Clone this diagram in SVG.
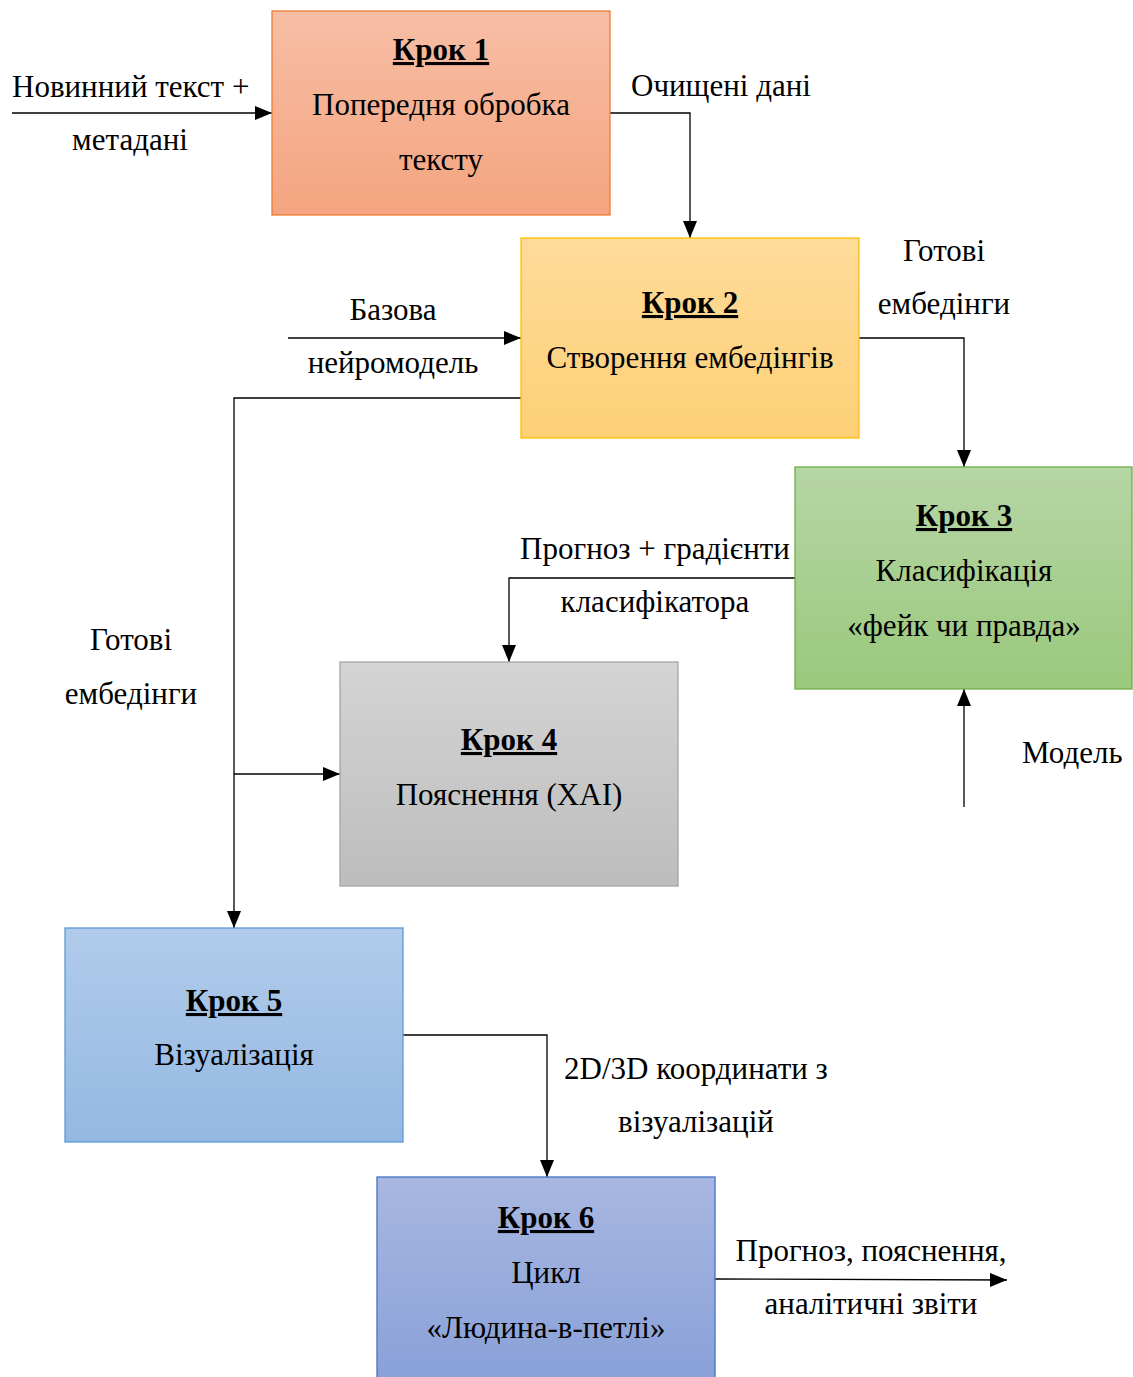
<svg xmlns="http://www.w3.org/2000/svg" width="1133" height="1377" viewBox="0 0 1133 1377">
  <style>
    text { font-family: "Liberation Serif", "Times New Roman", serif; font-size: 31px; fill: #000; }
    .c { text-anchor: middle; }
    .h { font-weight: bold; text-decoration: underline; }
    .box { stroke-width: 1.3; }
    .conn { fill: none; stroke: #000; stroke-width: 1.3; }
  </style>
  <defs>
    <marker id="arr" markerUnits="userSpaceOnUse" markerWidth="18" markerHeight="14" refX="17" refY="7" orient="auto">
      <path d="M0,0 L17,7 L0,14 Z" fill="#000"/>
    </marker>
    <linearGradient id="g1" x1="0" y1="0" x2="0" y2="1"><stop offset="0" stop-color="#f7bea5"/><stop offset="1" stop-color="#f4a47f"/></linearGradient>
    <linearGradient id="g2" x1="0" y1="0" x2="0" y2="1"><stop offset="0" stop-color="#ffdb9a"/><stop offset="1" stop-color="#fdd077"/></linearGradient>
    <linearGradient id="g3" x1="0" y1="0" x2="0" y2="1"><stop offset="0" stop-color="#b6d6a6"/><stop offset="1" stop-color="#9ac87c"/></linearGradient>
    <linearGradient id="g4" x1="0" y1="0" x2="0" y2="1"><stop offset="0" stop-color="#d4d4d4"/><stop offset="1" stop-color="#bdbdbd"/></linearGradient>
    <linearGradient id="g5" x1="0" y1="0" x2="0" y2="1"><stop offset="0" stop-color="#b1cbea"/><stop offset="1" stop-color="#94b8e2"/></linearGradient>
    <linearGradient id="g6" x1="0" y1="0" x2="0" y2="1"><stop offset="0" stop-color="#a8b7e1"/><stop offset="1" stop-color="#88a0d8"/></linearGradient>
  </defs>

  <!-- connectors -->
  <g id="connectors">
    <path class="conn" d="M12,113 H272" marker-end="url(#arr)"/>
    <path class="conn" d="M610,113 H690 V238" marker-end="url(#arr)"/>
    <path class="conn" d="M288,338 H521" marker-end="url(#arr)"/>
    <path class="conn" d="M859,338 H964 V467" marker-end="url(#arr)"/>
    <path class="conn" d="M521,398 H234 V928" marker-end="url(#arr)"/>
    <path class="conn" d="M234,774 H340" marker-end="url(#arr)"/>
    <path class="conn" d="M795,578 H509 V662" marker-end="url(#arr)"/>
    <path class="conn" d="M964,807 V689" marker-end="url(#arr)"/>
    <path class="conn" d="M403,1035 H547 V1177" marker-end="url(#arr)"/>
    <path class="conn" d="M715,1279 L1007,1280" marker-end="url(#arr)"/>
  </g>

  <!-- connector labels -->
  <g id="labels">
    <text x="12" y="97">Новинний текст +</text>
    <text class="c" x="130" y="150">метадані</text>
    <text x="631" y="96">Очищені дані</text>
    <text class="c" x="944" y="261">Готові</text>
    <text class="c" x="944" y="314">ембедінги</text>
    <text class="c" x="393" y="320">Базова</text>
    <text class="c" x="393" y="373">нейромодель</text>
    <text class="c" x="655" y="559">Прогноз + градієнти</text>
    <text class="c" x="655" y="612">класифікатора</text>
    <text class="c" x="131" y="650">Готові</text>
    <text class="c" x="131" y="704">ембедінги</text>
    <text x="1022" y="763">Модель</text>
    <text class="c" x="696" y="1079">2D/3D координати з</text>
    <text class="c" x="696" y="1132">візуалізацій</text>
    <text class="c" x="871" y="1261">Прогноз, пояснення,</text>
    <text class="c" x="871" y="1314">аналітичні звіти</text>
  </g>

  <g id="step1">
    <rect class="box" x="272" y="11" width="338" height="204" fill="url(#g1)" stroke="#ed7d31"/>
    <text class="c h" x="441" y="60">Крок 1</text>
    <text class="c" x="441" y="115">Попередня обробка</text>
    <text class="c" x="441" y="170">тексту</text>
  </g>

  <g id="step2">
    <rect class="box" x="521" y="238" width="338" height="200" fill="url(#g2)" stroke="#ffc000"/>
    <text class="c h" x="690" y="313">Крок 2</text>
    <text class="c" x="690" y="368">Створення ембедінгів</text>
  </g>

  <g id="step3">
    <rect class="box" x="795" y="467" width="337" height="222" fill="url(#g3)" stroke="#70ad47"/>
    <text class="c h" x="964" y="526">Крок 3</text>
    <text class="c" x="964" y="581">Класифікація</text>
    <text class="c" x="964" y="636">«фейк чи правда»</text>
  </g>

  <g id="step4">
    <rect class="box" x="340" y="662" width="338" height="224" fill="url(#g4)" stroke="#a5a5a5"/>
    <text class="c h" x="509" y="750">Крок 4</text>
    <text class="c" x="509" y="805">Пояснення (XAI)</text>
  </g>

  <g id="step5">
    <rect class="box" x="65" y="928" width="338" height="214" fill="url(#g5)" stroke="#5b9bd5"/>
    <text class="c h" x="234" y="1011">Крок 5</text>
    <text class="c" x="234" y="1065">Візуалізація</text>
  </g>

  <g id="step6">
    <rect class="box" x="377" y="1177" width="338" height="210" fill="url(#g6)" stroke="#4472c4"/>
    <text class="c h" x="546" y="1228">Крок 6</text>
    <text class="c" x="546" y="1283">Цикл</text>
    <text class="c" x="546" y="1338">«Людина-в-петлі»</text>
  </g>
</svg>
